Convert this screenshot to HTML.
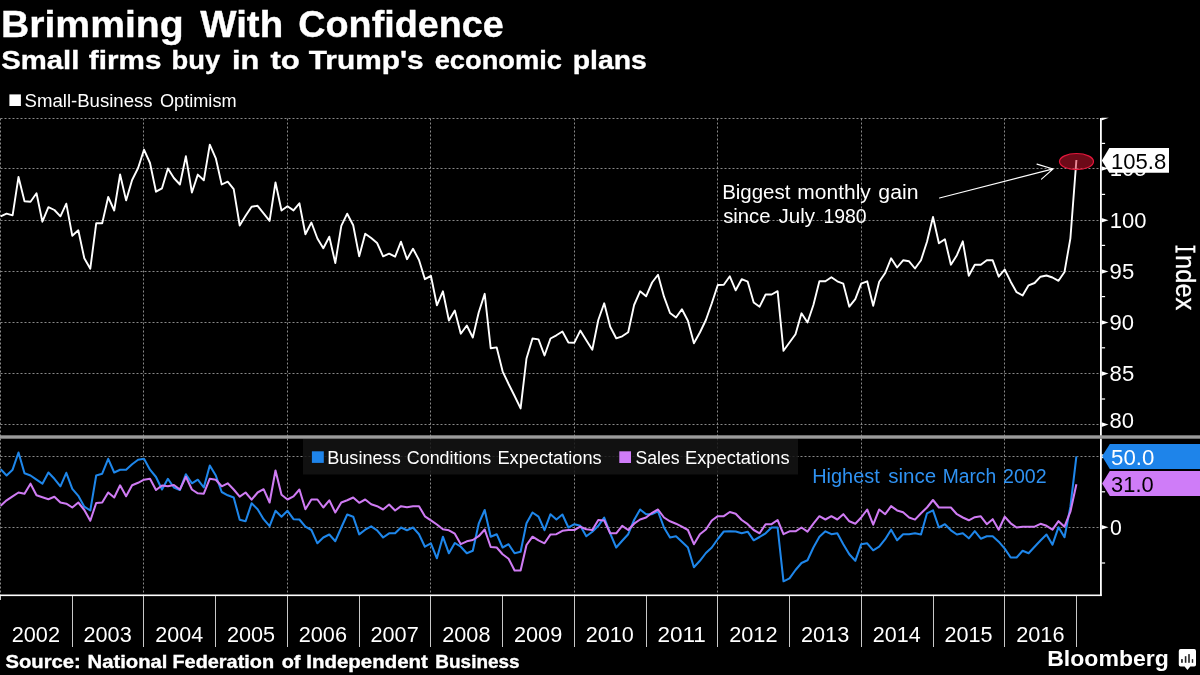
<!DOCTYPE html>
<html><head><meta charset="utf-8"><title>Brimming With Confidence</title>
<style>
html,body{margin:0;padding:0;background:#000;}
body{width:1200px;height:675px;overflow:hidden;font-family:"Liberation Sans",sans-serif;}
svg{display:block;position:absolute;left:0;top:0;will-change:transform;}
text{font-family:"Liberation Sans",sans-serif;}
</style></head><body>
<svg width="1200" height="675" viewBox="0 0 1200 675">
<rect x="0" y="0" width="1200" height="675" fill="#000"/>

<g stroke="#888888" stroke-width="1" stroke-dasharray="2,2" stroke-dashoffset="-0.5" fill="none">
<line x1="0" y1="118.5" x2="1100" y2="118.5"/>
<line x1="0" y1="168.5" x2="1100" y2="168.5"/>
<line x1="0" y1="220.5" x2="1100" y2="220.5"/>
<line x1="0" y1="271.5" x2="1100" y2="271.5"/>
<line x1="0" y1="322.5" x2="1100" y2="322.5"/>
<line x1="0" y1="373.5" x2="1100" y2="373.5"/>
<line x1="0" y1="424.5" x2="1100" y2="424.5"/>
<line x1="0" y1="456.5" x2="1100" y2="456.5"/>
<line x1="0" y1="527.5" x2="1100" y2="527.5"/>
<line x1="0.5" y1="118" x2="0.5" y2="595"/>
<line x1="143.5" y1="118" x2="143.5" y2="595"/>
<line x1="287.5" y1="118" x2="287.5" y2="595"/>
<line x1="430.5" y1="118" x2="430.5" y2="595"/>
<line x1="574.5" y1="118" x2="574.5" y2="595"/>
<line x1="717.5" y1="118" x2="717.5" y2="595"/>
<line x1="861.5" y1="118" x2="861.5" y2="595"/>
<line x1="1004.5" y1="118" x2="1004.5" y2="595"/>
</g>
<rect x="303" y="439" width="495" height="35.5" fill="#141414" fill-opacity="0.85"/>
<path d="M0.6,469.2 L6.6,475.5 L12.6,469.7 L18.5,452.5 L24.5,473.3 L30.5,475.5 L36.5,479.7 L42.4,483.7 L48.4,472.5 L54.4,478.8 L60.4,486.3 L66.3,472.8 L72.3,488.8 L78.3,495.8 L84.3,506.7 L90.3,510.5 L96.2,475.5 L102.2,473.7 L108.2,458.8 L114.2,472.5 L120.1,469.7 L126.1,469.7 L132.1,464.2 L138.1,459.7 L144.0,458.7 L150.0,469.7 L156.0,477.0 L162.0,489.5 L167.9,478.8 L173.9,487.5 L179.9,490.0 L185.9,474.2 L191.9,483.3 L197.8,479.7 L203.8,487.5 L209.8,465.5 L215.8,475.5 L221.7,492.0 L227.7,495.3 L233.7,497.5 L239.7,519.7 L245.6,521.3 L251.6,503.3 L257.6,509.2 L263.6,519.2 L269.6,526.2 L275.5,510.8 L281.5,516.7 L287.5,510.8 L293.5,519.2 L299.4,519.5 L305.4,526.7 L311.4,530.0 L317.4,543.3 L323.3,537.5 L329.3,534.5 L335.3,541.2 L341.3,527.5 L347.2,514.5 L353.2,516.7 L359.2,534.4 L365.2,529.7 L371.2,526.3 L377.1,530.3 L383.1,537.5 L389.1,533.3 L395.1,533.3 L401.0,527.5 L407.0,530.3 L413.0,527.5 L419.0,534.2 L424.9,546.7 L430.9,543.3 L436.9,558.3 L442.9,536.7 L448.9,553.3 L454.8,543.0 L460.8,546.7 L466.8,553.3 L472.8,550.8 L478.7,523.7 L484.7,510.0 L490.7,536.7 L496.7,534.2 L502.6,547.5 L508.6,544.2 L514.6,553.3 L520.6,551.7 L526.5,523.3 L532.5,512.5 L538.5,516.7 L544.5,530.2 L550.5,514.2 L556.4,519.5 L562.4,514.5 L568.4,527.5 L574.4,524.2 L580.3,525.8 L586.3,536.3 L592.3,531.7 L598.3,525.8 L604.2,517.5 L610.2,533.3 L616.2,547.5 L622.2,540.8 L628.2,534.2 L634.1,520.0 L640.1,509.5 L646.1,514.2 L652.1,514.2 L658.0,511.3 L664.0,527.5 L670.0,537.5 L676.0,536.3 L681.9,541.7 L687.9,547.5 L693.9,567.2 L699.9,560.8 L705.9,553.0 L711.8,547.5 L717.8,539.0 L723.8,531.5 L729.8,531.3 L735.7,531.5 L741.7,533.3 L747.7,531.7 L753.7,540.3 L759.6,537.0 L765.6,533.3 L771.6,527.5 L777.6,527.5 L783.5,581.3 L789.5,578.3 L795.5,570.0 L801.5,563.0 L807.5,560.3 L813.4,547.5 L819.4,536.7 L825.4,531.3 L831.4,534.2 L837.3,533.3 L843.3,544.2 L849.3,554.2 L855.3,560.8 L861.2,544.2 L867.2,543.3 L873.2,550.3 L879.2,546.7 L885.2,539.2 L891.1,529.7 L897.1,540.3 L903.1,534.2 L909.1,534.2 L915.0,533.3 L921.0,534.5 L927.0,513.3 L933.0,510.3 L938.9,527.5 L944.9,524.2 L950.9,530.3 L956.9,534.5 L962.8,533.3 L968.8,538.3 L974.8,531.2 L980.8,538.7 L986.8,536.3 L992.7,536.3 L998.7,541.7 L1004.7,548.7 L1010.7,557.5 L1016.6,557.5 L1022.6,550.8 L1028.6,553.3 L1034.6,546.7 L1040.5,540.5 L1046.5,534.5 L1052.5,544.7 L1058.5,527.2 L1064.5,537.2 L1070.4,506.7 L1076.4,456.3" fill="none" stroke="#1e86ea" stroke-width="2.05" stroke-linejoin="round" stroke-linecap="butt"/>
<path d="M0.6,505.8 L6.6,500.3 L12.6,496.3 L18.5,492.5 L24.5,493.7 L30.5,483.7 L36.5,495.3 L42.4,497.2 L48.4,499.2 L54.4,496.7 L60.4,502.5 L66.3,503.7 L72.3,507.5 L78.3,502.5 L84.3,510.0 L90.3,520.8 L96.2,503.0 L102.2,502.5 L108.2,492.5 L114.2,497.5 L120.1,485.3 L126.1,496.3 L132.1,485.3 L138.1,482.8 L144.0,479.7 L150.0,478.7 L156.0,490.0 L162.0,485.5 L167.9,486.3 L173.9,485.0 L179.9,489.5 L185.9,476.7 L191.9,489.5 L197.8,493.3 L203.8,493.7 L209.8,478.7 L215.8,479.7 L221.7,486.3 L227.7,483.3 L233.7,489.5 L239.7,496.7 L245.6,492.5 L251.6,499.7 L257.6,492.5 L263.6,489.2 L269.6,502.5 L275.5,470.5 L281.5,494.7 L287.5,499.5 L293.5,496.3 L299.4,489.5 L305.4,509.2 L311.4,499.5 L317.4,499.5 L323.3,507.5 L329.3,500.3 L335.3,512.5 L341.3,502.5 L347.2,500.3 L353.2,497.5 L359.2,502.8 L365.2,499.5 L371.2,504.2 L377.1,506.2 L383.1,509.5 L389.1,504.5 L395.1,510.5 L401.0,506.2 L407.0,507.2 L413.0,506.2 L419.0,506.2 L424.9,516.3 L430.9,520.3 L436.9,524.5 L442.9,529.2 L448.9,530.3 L454.8,533.7 L460.8,544.2 L466.8,541.3 L472.8,540.0 L478.7,536.2 L484.7,529.5 L490.7,547.0 L496.7,547.5 L502.6,554.2 L508.6,558.7 L514.6,570.5 L520.6,570.5 L526.5,545.0 L532.5,536.7 L538.5,540.4 L544.5,543.3 L550.5,534.4 L556.4,534.2 L562.4,530.8 L568.4,530.0 L574.4,530.0 L580.3,526.7 L586.3,529.2 L592.3,530.0 L598.3,520.0 L604.2,520.5 L610.2,533.3 L616.2,533.3 L622.2,525.8 L628.2,530.0 L634.1,523.7 L640.1,519.5 L646.1,517.5 L652.1,512.8 L658.0,509.5 L664.0,517.5 L670.0,521.3 L676.0,523.7 L681.9,526.7 L687.9,530.0 L693.9,544.2 L699.9,534.2 L705.9,529.5 L711.8,520.5 L717.8,516.2 L723.8,516.2 L729.8,512.0 L735.7,513.8 L741.7,520.0 L747.7,524.2 L753.7,530.0 L759.6,533.3 L765.6,524.2 L771.6,524.2 L777.6,520.0 L783.5,534.2 L789.5,531.3 L795.5,531.3 L801.5,527.5 L807.5,531.7 L813.4,523.7 L819.4,516.2 L825.4,519.5 L831.4,516.2 L837.3,519.5 L843.3,514.2 L849.3,521.3 L855.3,523.7 L861.2,517.5 L867.2,509.5 L873.2,524.7 L879.2,509.5 L885.2,514.2 L891.1,506.2 L897.1,510.4 L903.1,512.3 L909.1,517.5 L915.0,519.6 L921.0,513.2 L927.0,507.5 L933.0,500.0 L938.9,507.5 L944.9,507.5 L950.9,507.5 L956.9,514.2 L962.8,517.5 L968.8,520.3 L974.8,517.2 L980.8,516.3 L986.8,524.2 L992.7,519.2 L998.7,529.7 L1004.7,516.7 L1010.7,523.3 L1016.6,527.5 L1022.6,526.7 L1028.6,526.7 L1034.6,526.7 L1040.5,523.8 L1046.5,525.8 L1052.5,529.7 L1058.5,521.2 L1064.5,526.7 L1070.4,511.7 L1076.4,484.2" fill="none" stroke="#cf7bf3" stroke-width="2.05" stroke-linejoin="round" stroke-linecap="butt"/>
<path d="M0.6,216.3 L6.6,213.7 L12.6,215.3 L18.5,177.0 L24.5,201.3 L30.5,201.7 L36.5,193.3 L42.4,221.7 L48.4,207.2 L54.4,210.0 L60.4,216.3 L66.3,203.7 L72.3,235.8 L78.3,230.3 L84.3,258.3 L90.3,268.7 L96.2,223.3 L102.2,223.3 L108.2,197.0 L114.2,210.5 L120.1,174.5 L126.1,200.4 L132.1,180.0 L138.1,168.0 L144.0,149.7 L150.0,163.0 L156.0,191.7 L162.0,188.3 L167.9,168.5 L173.9,178.0 L179.9,184.5 L185.9,156.3 L191.9,192.5 L197.8,174.6 L203.8,180.3 L209.8,144.7 L215.8,158.3 L221.7,184.5 L227.7,181.7 L233.7,189.2 L239.7,225.5 L245.6,215.8 L251.6,206.7 L257.6,205.8 L263.6,213.3 L269.6,220.8 L275.5,182.5 L281.5,210.5 L287.5,206.3 L293.5,210.4 L299.4,203.3 L305.4,234.2 L311.4,222.5 L317.4,238.5 L323.3,248.3 L329.3,236.7 L335.3,263.0 L341.3,225.8 L347.2,213.7 L353.2,225.3 L359.2,256.3 L365.2,233.7 L371.2,238.0 L377.1,243.0 L383.1,256.3 L389.1,253.7 L395.1,256.7 L401.0,241.7 L407.0,259.2 L413.0,248.7 L419.0,260.0 L424.9,279.2 L430.9,275.8 L436.9,305.3 L442.9,291.3 L448.9,320.5 L454.8,310.5 L460.8,333.7 L466.8,325.5 L472.8,337.5 L478.7,312.5 L484.7,293.8 L490.7,348.2 L496.7,347.4 L502.6,371.3 L508.6,384.0 L514.6,396.0 L520.6,408.4 L526.5,358.4 L532.5,338.5 L538.5,339.4 L544.5,355.5 L550.5,338.5 L556.4,335.3 L562.4,331.5 L568.4,342.5 L574.4,342.7 L580.3,330.6 L586.3,340.3 L592.3,349.7 L598.3,320.0 L604.2,303.3 L610.2,326.8 L616.2,338.3 L622.2,336.3 L628.2,332.2 L634.1,305.0 L640.1,291.3 L646.1,296.3 L652.1,282.5 L658.0,274.7 L664.0,296.7 L670.0,313.0 L676.0,317.5 L681.9,309.2 L687.9,320.8 L693.9,343.3 L699.9,332.5 L705.9,320.0 L711.8,303.3 L717.8,285.0 L723.8,284.7 L729.8,276.3 L735.7,290.3 L741.7,279.2 L747.7,281.7 L753.7,302.5 L759.6,306.7 L765.6,294.5 L771.6,294.5 L777.6,291.2 L783.5,350.8 L789.5,342.5 L795.5,334.2 L801.5,313.3 L807.5,322.5 L813.4,305.0 L819.4,281.3 L825.4,281.3 L831.4,277.2 L837.3,281.3 L843.3,283.7 L849.3,306.7 L855.3,299.2 L861.2,283.7 L867.2,281.3 L873.2,305.8 L879.2,281.7 L885.2,273.0 L891.1,258.3 L897.1,267.5 L903.1,260.3 L909.1,261.3 L915.0,268.5 L921.0,260.2 L927.0,241.7 L933.0,217.0 L938.9,243.3 L944.9,239.2 L950.9,264.7 L956.9,255.2 L962.8,241.3 L968.8,275.8 L974.8,264.7 L980.8,264.7 L986.8,260.3 L992.7,260.3 L998.7,276.7 L1004.7,269.5 L1010.7,281.7 L1016.6,292.2 L1022.6,295.5 L1028.6,285.3 L1034.6,283.0 L1040.5,276.7 L1046.5,275.5 L1052.5,277.5 L1058.5,280.8 L1064.5,272.0 L1070.4,238.3 L1076.4,160.0" fill="none" stroke="#fff" stroke-width="1.9" stroke-linejoin="round" stroke-linecap="butt"/>
<ellipse cx="1076.5" cy="161.6" rx="17" ry="8.1" fill="#d8142f" fill-opacity="0.5" stroke="#e2173b" stroke-width="1.2"/>
<rect x="0" y="435.3" width="1200" height="3.4" fill="#9b9b9b"/>
<rect x="1100" y="118" width="1.8" height="317.5" fill="#fff"/>
<rect x="1100" y="438.7" width="1.8" height="157" fill="#fff"/>
<rect x="0" y="594.5" width="1101.8" height="1.6" fill="#fff"/>
<g fill="#fff">
<path d="M1101.5,117.8 L1108.8,117.8 L1101.5,120.6 Z"/>
<path d="M1101.5,166.2 L1108.5,168.5 L1101.5,170.8 Z"/>
<path d="M1101.5,218.0 L1108.5,220.3 L1101.5,222.60000000000002 Z"/>
<path d="M1101.5,269.2 L1108.5,271.5 L1101.5,273.8 Z"/>
<path d="M1101.5,320.2 L1108.5,322.5 L1101.5,324.8 Z"/>
<path d="M1101.5,371.3 L1108.5,373.6 L1101.5,375.90000000000003 Z"/>
<path d="M1101.5,422.3 L1108.5,424.6 L1101.5,426.90000000000003 Z"/>
<rect x="1101.5" y="142.8" width="3.6" height="1.2"/>
<rect x="1101.5" y="193.8" width="3.6" height="1.2"/>
<rect x="1101.5" y="244.8" width="3.6" height="1.2"/>
<rect x="1101.5" y="296.0" width="3.6" height="1.2"/>
<rect x="1101.5" y="347.2" width="3.6" height="1.2"/>
<rect x="1101.5" y="398.4" width="3.6" height="1.2"/>
<path d="M1101.5,454.0 L1108.5,456.3 L1101.5,458.6 Z"/>
<path d="M1101.5,524.9000000000001 L1108.5,527.2 L1101.5,529.5 Z"/>
<rect x="1101.5" y="491.2" width="3.6" height="1.2"/>
<rect x="1101.5" y="562.4" width="3.6" height="1.2"/>
</g>
<g stroke="#c8c8c8" stroke-width="1" shape-rendering="crispEdges">
<line x1="72.5" y1="596" x2="72.5" y2="646.5"/>
<line x1="143.5" y1="596" x2="143.5" y2="646.5"/>
<line x1="215.5" y1="596" x2="215.5" y2="646.5"/>
<line x1="287.5" y1="596" x2="287.5" y2="646.5"/>
<line x1="359.5" y1="596" x2="359.5" y2="646.5"/>
<line x1="430.5" y1="596" x2="430.5" y2="646.5"/>
<line x1="502.5" y1="596" x2="502.5" y2="646.5"/>
<line x1="574.5" y1="596" x2="574.5" y2="646.5"/>
<line x1="646.5" y1="596" x2="646.5" y2="646.5"/>
<line x1="717.5" y1="596" x2="717.5" y2="646.5"/>
<line x1="789.5" y1="596" x2="789.5" y2="646.5"/>
<line x1="861.5" y1="596" x2="861.5" y2="646.5"/>
<line x1="933.5" y1="596" x2="933.5" y2="646.5"/>
<line x1="1004.5" y1="596" x2="1004.5" y2="646.5"/>
<line x1="1076.5" y1="596" x2="1076.5" y2="646.5"/>
<line x1="0.3" y1="596" x2="0.3" y2="599.5"/>
</g>
<path d="M1101.8,160.6 L1109.3,148 L1169,148 L1169,172.8 L1109.3,172.8 Z" fill="#fff"/>
<path d="M1102.1,456.3 L1109.8,444.1 L1200,444.1 L1200,468.9 L1109.8,468.9 Z" fill="#1e84ea"/>
<path d="M1102.1,483.4 L1109.8,471.1 L1200,471.1 L1200,496 L1109.8,496 Z" fill="#cf7cf8"/>
<g stroke="#fff" stroke-width="1.1" fill="none" stroke-linecap="round"><path d="M939.5,198 L1053,168.9 M1037,164.1 L1053,168.9 L1041.5,179.1"/></g>
<rect x="9.4" y="94.4" width="11.5" height="11.6" fill="#fff"/>
<rect x="311.9" y="451.3" width="11.9" height="11.6" fill="#1e84ea"/>
<rect x="619.3" y="451.3" width="11.7" height="11.7" fill="#cf7cf8"/>
<text transform="translate(0.95,36.90) scale(1.0639,1)" font-size="36.81px" font-weight="bold" stroke="#fff" stroke-width="0.35" fill="#fff">Brimming</text>
<text transform="translate(200.20,36.90) scale(1.0451,1)" font-size="36.81px" font-weight="bold" stroke="#fff" stroke-width="0.35" fill="#fff">With</text>
<text transform="translate(298.29,36.90) scale(1.0259,1)" font-size="36.81px" font-weight="bold" stroke="#fff" stroke-width="0.35" fill="#fff">Confidence</text>
<text transform="translate(1.22,69.00) scale(1.1054,1)" font-size="26.52px" font-weight="bold" stroke="#fff" stroke-width="0.35" fill="#fff">Small</text>
<text transform="translate(88.86,69.00) scale(1.1185,1)" font-size="26.52px" font-weight="bold" stroke="#fff" stroke-width="0.35" fill="#fff">firms</text>
<text transform="translate(171.52,69.00) scale(1.0327,1)" font-size="26.52px" font-weight="bold" stroke="#fff" stroke-width="0.35" fill="#fff">buy</text>
<text transform="translate(231.95,69.00) scale(1.1586,1)" font-size="26.52px" font-weight="bold" stroke="#fff" stroke-width="0.35" fill="#fff">in</text>
<text transform="translate(270.39,69.00) scale(1.1754,1)" font-size="26.52px" font-weight="bold" stroke="#fff" stroke-width="0.35" fill="#fff">to</text>
<text transform="translate(308.70,69.00) scale(1.1262,1)" font-size="26.52px" font-weight="bold" stroke="#fff" stroke-width="0.35" fill="#fff">Trump&#39;s</text>
<text transform="translate(434.71,69.00) scale(1.0279,1)" font-size="26.52px" font-weight="bold" stroke="#fff" stroke-width="0.35" fill="#fff">economic</text>
<text transform="translate(572.65,69.00) scale(1.0717,1)" font-size="26.52px" font-weight="bold" stroke="#fff" stroke-width="0.35" fill="#fff">plans</text>
<text transform="translate(24.56,106.50) scale(1.0522,1)" font-size="17.68px" fill="#fff">Small-Business</text>
<text transform="translate(159.98,106.50) scale(1.0266,1)" font-size="17.68px" fill="#fff">Optimism</text>
<text transform="translate(327.15,463.50) scale(1.0264,1)" font-size="17.68px" fill="#fff">Business</text>
<text transform="translate(406.81,463.50) scale(1.0117,1)" font-size="17.68px" fill="#fff">Conditions</text>
<text transform="translate(497.44,463.50) scale(1.0303,1)" font-size="17.68px" fill="#fff">Expectations</text>
<text transform="translate(635.41,463.50) scale(0.9979,1)" font-size="17.68px" fill="#fff">Sales</text>
<text transform="translate(685.04,463.50) scale(1.0334,1)" font-size="17.68px" fill="#fff">Expectations</text>
<text transform="translate(722.16,198.70) scale(1.0458,1)" font-size="19.57px" fill="#fff">Biggest</text>
<text transform="translate(797.34,198.70) scale(1.0728,1)" font-size="19.57px" fill="#fff">monthly</text>
<text transform="translate(878.35,198.70) scale(1.0852,1)" font-size="19.57px" fill="#fff">gain</text>
<text transform="translate(723.19,222.70) scale(1.0358,1)" font-size="19.57px" fill="#fff">since</text>
<text transform="translate(778.59,222.70) scale(1.0513,1)" font-size="19.57px" fill="#fff">July</text>
<text transform="translate(823.44,222.70) scale(0.9932,1)" font-size="19.57px" fill="#fff">1980</text>
<text transform="translate(812.21,482.50) scale(1.0176,1)" font-size="19.57px" fill="#2f92f2">Highest</text>
<text transform="translate(888.18,482.50) scale(1.0494,1)" font-size="19.57px" fill="#2f92f2">since</text>
<text transform="translate(942.66,482.50) scale(0.9854,1)" font-size="19.57px" fill="#2f92f2">March</text>
<text transform="translate(1003.02,482.50) scale(1.0006,1)" font-size="19.57px" fill="#2f92f2">2002</text>
<text transform="translate(5.49,667.60) scale(1.1253,1)" font-size="17.97px" font-weight="bold" stroke="#fff" stroke-width="0.35" fill="#fff">Source:</text>
<text transform="translate(87.58,667.60) scale(1.1275,1)" font-size="17.97px" font-weight="bold" stroke="#fff" stroke-width="0.35" fill="#fff">National</text>
<text transform="translate(172.41,667.60) scale(1.1084,1)" font-size="17.97px" font-weight="bold" stroke="#fff" stroke-width="0.35" fill="#fff">Federation</text>
<text transform="translate(281.70,667.60) scale(1.1068,1)" font-size="17.97px" font-weight="bold" stroke="#fff" stroke-width="0.35" fill="#fff">of</text>
<text transform="translate(306.37,667.60) scale(1.1376,1)" font-size="17.97px" font-weight="bold" stroke="#fff" stroke-width="0.35" fill="#fff">Independent</text>
<text transform="translate(435.37,667.60) scale(1.0539,1)" font-size="17.97px" font-weight="bold" stroke="#fff" stroke-width="0.35" fill="#fff">Business</text>
<text transform="translate(1047.20,666.40) scale(1.0067,1)" font-size="22.90px" font-weight="bold" fill="#fff">Bloomberg</text>
<text transform="translate(1109.75,176.10) scale(0.9853,1)" font-size="22.39px" fill="#fff">105</text>
<text transform="translate(1109.75,227.90) scale(0.9821,1)" font-size="22.39px" fill="#fff">100</text>
<text transform="translate(1109.60,279.10) scale(0.9889,1)" font-size="22.39px" fill="#fff">95</text>
<text transform="translate(1109.61,330.10) scale(0.9841,1)" font-size="22.39px" fill="#fff">90</text>
<text transform="translate(1109.60,381.20) scale(0.9889,1)" font-size="22.39px" fill="#fff">85</text>
<text transform="translate(1109.61,428.00) scale(0.9841,1)" font-size="22.39px" fill="#fff">80</text>
<text transform="translate(1109.95,534.60) scale(0.9495,1)" font-size="22.39px" fill="#fff">0</text>
<text transform="translate(11.71,641.90) scale(0.9708,1)" font-size="22.39px" fill="#fff">2002</text>
<text transform="translate(83.47,641.90) scale(0.9686,1)" font-size="22.39px" fill="#fff">2003</text>
<text transform="translate(155.22,641.90) scale(0.9618,1)" font-size="22.39px" fill="#fff">2004</text>
<text transform="translate(226.97,641.90) scale(0.9663,1)" font-size="22.39px" fill="#fff">2005</text>
<text transform="translate(298.72,641.90) scale(0.9686,1)" font-size="22.39px" fill="#fff">2006</text>
<text transform="translate(370.46,641.90) scale(0.9708,1)" font-size="22.39px" fill="#fff">2007</text>
<text transform="translate(442.22,641.90) scale(0.9686,1)" font-size="22.39px" fill="#fff">2008</text>
<text transform="translate(513.97,641.90) scale(0.9686,1)" font-size="22.39px" fill="#fff">2009</text>
<text transform="translate(585.72,641.90) scale(0.9663,1)" font-size="22.39px" fill="#fff">2010</text>
<text transform="translate(657.42,641.90) scale(1.0064,1)" font-size="22.39px" fill="#fff">2011</text>
<text transform="translate(729.21,641.90) scale(0.9708,1)" font-size="22.39px" fill="#fff">2012</text>
<text transform="translate(800.97,641.90) scale(0.9686,1)" font-size="22.39px" fill="#fff">2013</text>
<text transform="translate(872.72,641.90) scale(0.9618,1)" font-size="22.39px" fill="#fff">2014</text>
<text transform="translate(944.47,641.90) scale(0.9663,1)" font-size="22.39px" fill="#fff">2015</text>
<text transform="translate(1016.22,641.90) scale(0.9686,1)" font-size="22.39px" fill="#fff">2016</text>
<text transform="translate(1111.05,168.60) scale(0.9848,1)" font-size="22.39px" fill="#000">105.8</text>
<text transform="translate(1111.11,465.10) scale(0.9936,1)" font-size="22.39px" fill="#fff">50.0</text>
<text transform="translate(1111.12,492.00) scale(0.9769,1)" font-size="22.39px" fill="#000">31.0</text>
<text transform="translate(1175.5,255.04) rotate(90) scale(0.9174,1)" font-size="27.80px" fill="#fff" stroke="#fff" stroke-width="0.3">ndex</text>
<path d="M1175.4,245.4 h2.1 v2.5 h15.8 v-2.5 h2.1 v7.3 h-2.1 v-2.5 h-15.8 v2.5 h-2.1 Z" fill="#fff"/>
<g><path d="M1180.6,649.1 H1194.2 Q1196,649.1 1196,650.9 V664.7 Q1196,666.5 1194.2,666.5 H1190.3 L1187.4,670 L1184.6,666.5 H1180.6 Q1178.8,666.5 1178.8,664.7 V650.9 Q1178.8,649.1 1180.6,649.1 Z" fill="#fff"/><rect x="1181.1" y="659.1" width="1.7" height="3.7" fill="#222"/><rect x="1184.8" y="656.2" width="1.6" height="6.6" fill="#222"/><rect x="1188.2" y="654.1" width="1.6" height="8.7" fill="#222"/><rect x="1191.8" y="659.1" width="1.4" height="3.7" fill="#222"/></g>
</svg>
</body></html>
